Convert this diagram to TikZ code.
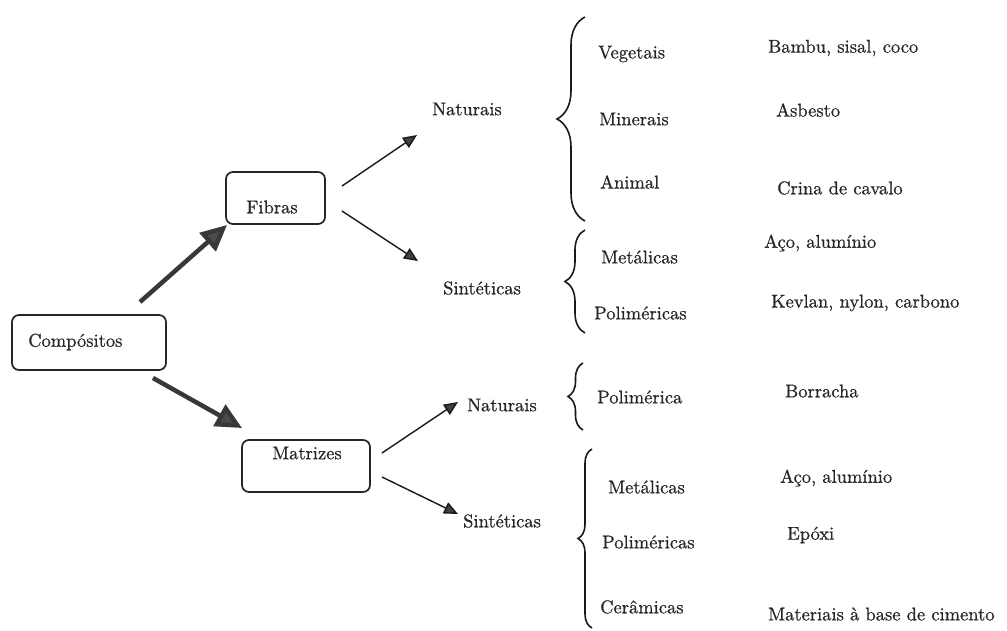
\documentclass[tikz,border=0pt]{standalone}
\usepackage{fontspec}
\newfontfamily\scanfont{lmroman10-regular.otf}[FakeBold=0.6]
\usetikzlibrary{arrows.meta,decorations.pathreplacing}
\begin{document}
\begin{tikzpicture}[x=1pt,y=-1pt,
  txt/.style={font=\scanfont\fontsize{18.5}{22}\selectfont, text=black!85, inner sep=0pt, anchor=west},
  ctxt/.style={font=\scanfont\fontsize{18.5}{22}\selectfont, text=black!85, inner sep=0pt},
  boxnode/.style={draw=black!85, line width=1.7pt, rounded corners=7pt, inner sep=0pt},
  bigarrow/.style={draw=black!78, line width=4.5pt, -{Triangle[length=26pt,width=24pt,fill=black!70]}},
  thinarrow/.style={draw=black!90, line width=1.4pt, -{Triangle[length=14pt,width=12pt,fill=black!75]}},
  bracepath/.style={draw=black!90, line width=1.6pt, decorate, decoration={brace, amplitude=#1}},
]
\useasboundingbox[fill=white] (0,0) rectangle (1007,630);

% boxes
\node[boxnode, minimum width=154pt, minimum height=55pt] (comp) at (89,342.5) {};
\node[txt] (tcomp) at (28,342) {Compósitos};
\node[boxnode, minimum width=99pt, minimum height=52pt] (fib) at (275.5,198) {};
\node[ctxt] (tfib) at (272,207) {Fibras};
\node[boxnode, minimum width=128pt, minimum height=52pt] (mat) at (306,466) {};
\node[ctxt] (tmat) at (307,453) {Matrizes};

% second level labels
\node[txt] (fnat) at (432,109) {Naturais};
\node[txt] (fsin) at (443,288) {Sintéticas};
\node[txt] (mnat) at (467,405) {Naturais};
\node[txt] (msin) at (463,521) {Sintéticas};

% arrow end points
\coordinate (a1s) at (140,302); \coordinate (a1e) at (227,225);
\coordinate (a2s) at (153,378); \coordinate (a2e) at (242,428);
\coordinate (b1s) at (342,186); \coordinate (b1e) at (417,135);
\coordinate (b2s) at (342,211); \coordinate (b2e) at (418,261);
\coordinate (b3s) at (382,453); \coordinate (b3e) at (458,402);
\coordinate (b4s) at (382,477); \coordinate (b4e) at (458,514);

\draw[bigarrow] (a1s) -- (a1e);
\draw[bigarrow] (a2s) -- (a2e);
\draw[thinarrow] (b1s) -- (b1e);
\draw[thinarrow] (b2s) -- (b2e);
\draw[thinarrow] (b3s) -- (b3e);
\draw[thinarrow] (b4s) -- (b4e);

% braces
\draw[bracepath=28pt] (585,221) -- (585,17);
\draw[bracepath=20pt] (585,333) -- (585,230);
\draw[bracepath=15pt] (583,430) -- (583,363);
\draw[bracepath=14pt] (592,628) -- (592,449);

% fibras naturais
\node[txt] (veg) at (598,54) {Vegetais};
\node[txt] (min) at (599,119) {Minerais};
\node[txt] (ani) at (600,182) {Animal};
\node[txt] (bam) at (768,48) {Bambu, sisal, coco};
\node[txt] (asb) at (776,110) {Asbesto};
\node[txt] (cri) at (777,188) {Crina de cavalo};
% fibras sinteticas
\node[txt] (fmet) at (601,257) {Metálicas};
\node[txt] (fpol) at (594,313) {Poliméricas};
\node[txt] (faco) at (764,243) {Aço, alumínio};
\node[txt] (kev) at (771,303) {Kevlan, nylon, carbono};
% matrizes naturais
\node[txt] (mpol1) at (597,397) {Polimérica};
\node[txt] (bor) at (785,391) {Borracha};
% matrizes sinteticas
\node[txt] (mmet) at (608,487) {Metálicas};
\node[txt] (mpol) at (602,542) {Poliméricas};
\node[txt] (cer) at (600,607) {Cerâmicas};
\node[txt] (maco) at (780,478) {Aço, alumínio};
\node[txt] (epo) at (787,535) {Epóxi};
\node[txt] (mci) at (768,614) {Materiais à base de cimento};
\end{tikzpicture}
\end{document}
